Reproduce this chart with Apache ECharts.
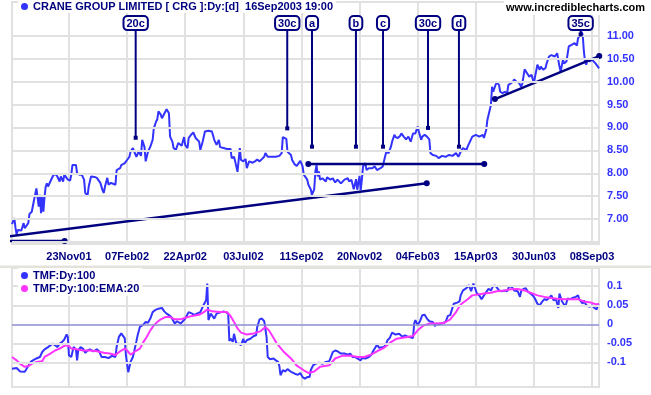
<!DOCTYPE html>
<html>
<head>
<meta charset="utf-8">
<script src="https://cdn.jsdelivr.net/npm/echarts@6/dist/echarts.min.js"></script>
<style>html,body{margin:0;padding:0;background:#fff}#c{width:651px;height:395px}</style>
</head>
<body>
<div id="c"></div>
<script>
// ---- data (x = trading-day number counted from 17Sep2001) ----
const chartTitle = 'CRANE GROUP LIMITED [ CRG ]:Dy:[d]  16Sep2003 19:00';
const siteText = 'www.incrediblecharts.com';
const tmfName = 'TMF:Dy:100';
const emaName = 'TMF:Dy:100:EMA:20';
const holidays = ['2001-12-25','2001-12-26','2002-01-01','2002-01-28','2002-03-29','2002-04-01','2002-04-25','2002-06-10','2002-12-25','2002-12-26','2003-01-01','2003-01-27','2003-04-18','2003-04-21','2003-04-25','2003-06-09'];
const xTickLabels = ['23Nov01','07Feb02','22Apr02','03Jul02','11Sep02','20Nov02','04Feb03','15Apr03','30Jun03','08Sep03'];
const priceTickLabels = [7, 7.5, 8, 8.5, 9, 9.5, 10, 10.5, 11];
const priceGridValues = [6.5, 7, 7.5, 8, 8.5, 9, 9.5, 10, 10.5, 11];
const tmfTickLabels = [0.1, 0.05, 0, -0.05, -0.1];

const price = [[0,6.89],[2,7.02],[3,6.81],[4,6.66],[5,6.76],[8,6.75],[10,6.91],[11,6.80],[14,6.91],[15,7.11],[17,7.16],[19,7.42],[21,7.67],[22,7.64],[23,7.27],[24,7.53],[25,7.13],[26,7.49],[27,7.16],[28,7.49],[29,7.71],[30,7.78],[31,7.71],[33,7.82],[35,7.93],[37,7.99],[39,7.93],[41,7.82],[42,7.93],[44,7.82],[45,7.97],[48,7.86],[50,7.84],[51,7.97],[52,8.18],[55,8.18],[56,8.00],[58,7.97],[60,7.97],[62,7.86],[63,7.57],[65,7.51],[66,7.71],[67,7.72],[68,7.93],[71,7.92],[73,7.90],[74,7.90],[76,7.79],[78,7.62],[79,7.57],[80,7.71],[82,7.90],[83,7.75],[85,7.79],[87,7.77],[89,7.75],[90,8.07],[93,8.11],[94,8.18],[97,8.22],[99,8.29],[101,8.36],[102,8.47],[104,8.55],[105,8.51],[107,8.36],[109,8.47],[111,8.38],[112,8.73],[114,8.57],[115,8.26],[117,8.47],[119,8.58],[121,8.73],[122,8.98],[124,9.13],[125,9.18],[126,9.35],[128,9.28],[129,9.20],[130,9.25],[132,9.35],[133,9.40],[135,9.31],[136,8.80],[138,8.69],[139,8.55],[141,8.51],[143,8.66],[146,8.60],[148,8.79],[149,8.62],[151,8.55],[152,8.77],[154,8.84],[156,8.89],[158,8.77],[161,8.69],[162,8.51],[164,8.69],[166,8.91],[169,8.93],[172,8.91],[173,8.95],[174,8.73],[176,8.62],[178,8.73],[179,8.57],[182,8.55],[185,8.53],[188,8.53],[189,8.33],[191,8.36],[192,8.26],[194,8.03],[196,8.55],[197,8.29],[199,8.26],[201,8.31],[202,8.11],[204,8.26],[207,8.23],[209,8.26],[211,8.30],[213,8.26],[217,8.36],[218,8.44],[220,8.36],[222,8.36],[227,8.36],[230,8.38],[232,8.44],[233,8.79],[234,8.82],[236,8.75],[237,8.47],[240,8.40],[241,8.29],[243,8.20],[245,8.16],[248,8.27],[250,8.15],[251,7.97],[254,7.86],[255,7.75],[257,7.65],[258,7.53],[260,7.65],[261,8.04],[262,8.18],[263,7.93],[264,8.04],[265,7.86],[267,7.89],[270,7.82],[271,7.91],[274,7.86],[276,7.89],[278,7.80],[280,7.86],[283,7.78],[286,7.86],[289,7.89],[290,7.82],[292,7.86],[294,7.65],[296,7.87],[297,7.64],[299,7.94],[300,7.63],[301,7.86],[302,8.15],[304,8.22],[305,8.07],[307,8.11],[310,8.11],[312,8.15],[314,8.07],[317,8.11],[319,8.15],[320,8.26],[322,8.47],[324,8.44],[326,8.58],[327,8.69],[329,8.84],[330,8.79],[332,8.77],[334,8.82],[335,8.87],[337,8.80],[339,8.74],[341,8.80],[343,8.69],[345,8.87],[346,8.91],[347,8.87],[349,9.02],[350,8.91],[352,8.73],[353,8.80],[355,8.84],[357,8.80],[359,8.74],[360,8.44],[362,8.40],[365,8.38],[367,8.33],[370,8.38],[373,8.36],[376,8.40],[379,8.38],[382,8.44],[384,8.36],[386,8.47],[388,8.55],[391,8.51],[392,8.58],[393,8.62],[396,8.80],[399,8.84],[402,8.80],[405,8.84],[406,8.77],[408,8.95],[409,9.17],[411,9.38],[412,9.49],[413,9.89],[414,9.78],[416,9.93],[417,9.98],[419,9.93],[420,9.78],[422,9.75],[424,9.78],[426,9.75],[427,9.93],[429,9.96],[431,10.0],[432,10.05],[434,10.0],[435,10.04],[436,9.98],[438,9.89],[439,9.95],[441,10.27],[443,10.19],[445,10.11],[447,10.15],[449,9.96],[450,10.11],[452,10.37],[454,10.26],[455,10.33],[457,10.26],[459,10.30],[460,10.40],[462,10.55],[464,10.58],[467,10.55],[469,10.62],[470,10.63],[471,10.33],[472,10.22],[474,10.48],[475,10.40],[477,10.44],[479,10.77],[481,10.80],[482,10.80],[484,10.84],[486,10.79],[487,10.95],[489,11.02],[490,11.09],[491,11.02],[492,10.66],[493,10.44],[494,10.37],[495,10.48],[497,10.44],[499,10.48],[500,10.49],[502,10.40],[503,10.37],[504,10.33],[505,10.29]];

const tmf = [[0,-0.117],[4,-0.115],[7,-0.124],[11,-0.125],[14,-0.110],[16,-0.099],[18,-0.095],[21,-0.090],[24,-0.086],[26,-0.073],[28,-0.066],[31,-0.060],[35,-0.051],[37,-0.055],[39,-0.060],[41,-0.051],[43,-0.047],[45,-0.040],[47,-0.027],[48,-0.033],[49,-0.082],[51,-0.086],[52,-0.073],[53,-0.060],[55,-0.066],[56,-0.095],[57,-0.069],[59,-0.060],[61,-0.064],[63,-0.075],[65,-0.069],[67,-0.066],[70,-0.071],[73,-0.066],[75,-0.071],[77,-0.086],[80,-0.086],[83,-0.089],[86,-0.083],[89,-0.086],[90,-0.060],[92,-0.033],[94,-0.024],[97,-0.037],[98,-0.082],[100,-0.126],[102,-0.099],[104,-0.086],[105,-0.073],[107,-0.045],[108,-0.030],[110,-0.007],[113,-0.001],[115,0.006],[117,0.004],[119,0.015],[121,0.032],[123,0.037],[126,0.041],[129,0.043],[131,0.034],[133,0.028],[135,0.024],[137,0.019],[138,0.015],[140,0.002],[142,0.008],[145,0.002],[147,0.008],[149,0.015],[152,0.032],[155,0.028],[157,0.024],[159,0.028],[162,0.032],[163,0.037],[165,0.052],[167,0.063],[168,0.107],[169,0.011],[171,0.028],[172,0.032],[174,0.015],[176,0.028],[177,0.032],[180,0.032],[182,0.034],[184,0.032],[186,0.028],[187,-0.044],[188,-0.038],[190,-0.046],[191,-0.025],[193,-0.051],[195,-0.051],[197,-0.055],[199,-0.038],[200,-0.051],[202,-0.042],[205,-0.038],[208,-0.031],[210,-0.029],[211,-0.007],[213,0.013],[215,0.015],[217,0.008],[219,-0.033],[220,-0.086],[222,-0.092],[225,-0.090],[227,-0.095],[229,-0.099],[230,-0.110],[231,-0.134],[233,-0.121],[235,-0.124],[237,-0.118],[240,-0.125],[242,-0.128],[244,-0.131],[246,-0.133],[248,-0.128],[250,-0.139],[252,-0.143],[254,-0.139],[256,-0.139],[257,-0.121],[259,-0.108],[261,-0.104],[264,-0.101],[267,-0.104],[270,-0.099],[273,-0.097],[274,-0.099],[276,-0.073],[278,-0.069],[280,-0.071],[283,-0.077],[286,-0.077],[289,-0.080],[291,-0.077],[293,-0.086],[295,-0.086],[297,-0.090],[300,-0.095],[301,-0.089],[304,-0.090],[307,-0.086],[309,-0.081],[311,-0.069],[314,-0.054],[316,-0.062],[317,-0.066],[320,-0.060],[322,-0.051],[323,-0.042],[325,-0.036],[327,-0.022],[330,-0.027],[333,-0.025],[336,-0.033],[338,-0.029],[341,-0.033],[345,-0.036],[346,0.002],[347,0.011],[349,-0.002],[351,0.008],[353,0.024],[355,0.025],[357,0.015],[359,0.008],[362,0.006],[364,-0.005],[365,0.002],[367,-0.001],[370,0.002],[373,0.006],[375,0.022],[377,0.024],[380,0.054],[383,0.057],[385,0.060],[386,0.076],[388,0.089],[389,0.093],[391,0.095],[393,0.103],[395,0.087],[397,0.107],[398,0.098],[400,0.081],[402,0.076],[404,0.066],[406,0.076],[408,0.085],[410,0.093],[412,0.089],[414,0.101],[416,0.101],[419,0.089],[421,0.087],[424,0.089],[426,0.087],[428,0.101],[430,0.098],[432,0.089],[433,0.091],[435,0.087],[437,0.072],[438,0.087],[440,0.093],[442,0.095],[444,0.085],[446,0.081],[448,0.076],[450,0.067],[452,0.054],[454,0.050],[456,0.059],[458,0.066],[460,0.064],[462,0.069],[464,0.076],[466,0.063],[468,0.066],[470,0.043],[471,0.081],[473,0.061],[474,0.066],[476,0.046],[478,0.068],[480,0.066],[482,0.069],[485,0.072],[487,0.076],[488,0.066],[491,0.054],[492,0.063],[494,0.050],[497,0.046],[499,0.050],[501,0.043],[503,0.039],[504,0.052],[505,0.054]];

const ema = [[0,-0.086],[4,-0.095],[7,-0.104],[11,-0.112],[14,-0.110],[17,-0.104],[21,-0.099],[26,-0.097],[28,-0.086],[33,-0.077],[37,-0.069],[41,-0.064],[46,-0.055],[49,-0.057],[51,-0.064],[56,-0.066],[61,-0.069],[67,-0.069],[73,-0.071],[79,-0.075],[84,-0.077],[89,-0.081],[93,-0.071],[97,-0.064],[99,-0.069],[102,-0.080],[106,-0.071],[110,-0.064],[113,-0.047],[116,-0.033],[119,-0.016],[122,-0.003],[125,0.006],[128,0.013],[132,0.019],[136,0.019],[140,0.013],[145,0.013],[149,0.017],[155,0.022],[161,0.025],[165,0.032],[168,0.039],[172,0.034],[179,0.032],[185,0.032],[188,0.022],[191,0.006],[194,-0.011],[197,-0.022],[202,-0.027],[208,-0.024],[214,-0.018],[218,-0.007],[221,-0.016],[224,-0.031],[228,-0.051],[234,-0.073],[240,-0.090],[245,-0.109],[251,-0.121],[255,-0.128],[260,-0.124],[265,-0.112],[273,-0.108],[278,-0.090],[284,-0.083],[292,-0.083],[297,-0.086],[303,-0.086],[308,-0.081],[314,-0.071],[320,-0.062],[326,-0.047],[331,-0.038],[339,-0.034],[345,-0.031],[349,-0.016],[354,-0.003],[360,0.002],[366,0.002],[372,0.004],[377,0.013],[382,0.032],[386,0.052],[392,0.066],[396,0.076],[400,0.078],[406,0.081],[412,0.083],[417,0.087],[424,0.089],[429,0.092],[435,0.093],[441,0.089],[446,0.083],[452,0.076],[458,0.072],[464,0.069],[469,0.067],[475,0.066],[481,0.066],[487,0.066],[492,0.060],[498,0.057],[503,0.052],[505,0.054]];

// trend lines: [day, price]; the first point of the two left-hand lines has no end marker
const trendLow = [[-10.3, 6.596], [356.8, 7.78]];
const supportLow = [[-10.3, 6.52], [45.3, 6.52]];
const resistance = [[254.9, 8.20], [406.3, 8.20]];
const trendHigh = [[415.5, 9.62], [505.2, 10.56]];

// annotations: label, day, price where the pointer ends
const annLabels = ['20c','30c','a','b','c','30c','d','35c'];
const annDays = [106.4, 236.8, 258.1, 295.9, 319.2, 357.9, 384.5, 489.2];
const annPrices = [8.775, 8.98, 8.58, 8.58, 8.58, 8.99, 8.58, 11.03];
const annTop = 11.148;

// ---- build trading-day calendar ----
const MON = ['Jan','Feb','Mar','Apr','May','Jun','Jul','Aug','Sep','Oct','Nov','Dec'];
const days = [];
for (let t = Date.UTC(2001, 8, 17); t <= Date.UTC(2003, 8, 16); t += 86400000) {
  const d = new Date(t);
  const wd = d.getUTCDay();
  if (wd === 0 || wd === 6) continue;
  const iso = d.toISOString().slice(0, 10);
  if (holidays.includes(iso)) continue;
  const dd = String(d.getUTCDate()).padStart(2, '0');
  const yy = String(d.getUTCFullYear()).slice(2);
  days.push(dd + MON[d.getUTCMonth()] + yy);
}
const lastDay = days.length - 1;

const FONT = 'Arial, "Liberation Sans", sans-serif';
const NAVY = '#000080';
const BLUE = '#3333ff';
const GRIDC = '#e1e1e1';
const isTick = (i, v) => xTickLabels.includes(v);
const near = (list, v) => list.some(t => Math.abs(t - v) < 1e-6);

function trendSeries(pts, startDot) {
  return {
    type: 'line', xAxisIndex: 2, yAxisIndex: 0, clip: false, silent: true,
    symbol: 'circle', symbolSize: 6, z: 4,
    itemStyle: { color: NAVY },
    lineStyle: { color: NAVY, width: 2.5 },
    data: pts.map((p, i) => (i === 0 && !startDot) ? { value: p, symbol: 'none' } : { value: p })
  };
}

const chart = echarts.init(document.getElementById('c'));
chart.setOption({
  animation: false,
  backgroundColor: '#fff',
  textStyle: { fontFamily: FONT },
  title: {
    text: siteText, right: 4, top: 0, padding: [2, 2], z: 20,
    backgroundColor: '#fff',
    textStyle: { fontSize: 11, fontWeight: 'bold', color: '#000', fontFamily: FONT }
  },
  legend: [
    { data: [chartTitle], left: 18, top: 0, padding: [1, 3, 1, 3], backgroundColor: '#fff', z: 20,
      icon: 'circle', itemWidth: 7, itemHeight: 7, selectedMode: false,
      textStyle: { fontSize: 11, fontWeight: 'bold', color: NAVY, fontFamily: FONT } },
    { data: [tmfName, emaName], orient: 'vertical', left: 18, top: 268, padding: [1, 3, 1, 3], z: 20,
      itemGap: 0, backgroundColor: '#fff', icon: 'circle', itemWidth: 7, itemHeight: 7, selectedMode: false,
      textStyle: { fontSize: 11, fontWeight: 'bold', color: NAVY, fontFamily: FONT, lineHeight: 13 } }
  ],
  graphic: [
    { type: 'rect', left: 0, top: 265.5, shape: { width: 651, height: 2.5 }, style: { fill: '#e3e3dc' }, z: 0 }
  ],
  grid: [
    { left: 12, right: 52, top: 2, height: 242, show: true, borderColor: GRIDC, borderWidth: 2 },
    { left: 12, right: 52, top: 268, height: 119, show: true, borderColor: GRIDC, borderWidth: 2 }
  ],
  xAxis: [
    { type: 'category', gridIndex: 0, data: days, boundaryGap: false,
      axisLine: { show: false }, axisTick: { show: false },
      axisLabel: { interval: isTick, color: NAVY, fontSize: 11, fontWeight: 'bold', fontFamily: FONT, margin: 7 },
      splitLine: { show: true, interval: isTick, lineStyle: { color: GRIDC, width: 2 } } },
    { type: 'category', gridIndex: 1, data: days, boundaryGap: false,
      axisLine: { show: false }, axisTick: { show: false }, axisLabel: { show: false },
      splitLine: { show: true, interval: isTick, lineStyle: { color: GRIDC, width: 2 } } },
    { type: 'value', gridIndex: 0, min: 0, max: lastDay, show: false, splitLine: { show: false } }
  ],
  yAxis: [
    { type: 'value', gridIndex: 0, position: 'right', min: 6.455, max: 11.74,
      minInterval: 0.5, maxInterval: 0.5, splitNumber: 10,
      axisLine: { show: false }, axisTick: { show: false }, splitLine: { show: false },
      axisLabel: { color: BLUE, fontSize: 11, fontWeight: 'bold', fontFamily: FONT, margin: 8,
        showMinLabel: true, showMaxLabel: true,
        formatter: v => near(priceTickLabels, v) ? v.toFixed(2) : '' } },
    { type: 'value', gridIndex: 1, position: 'right', min: -0.165, max: 0.148,
      minInterval: 0.05, maxInterval: 0.05, splitNumber: 6,
      axisLine: { show: false }, axisTick: { show: false }, splitLine: { show: false },
      axisLabel: { color: BLUE, fontSize: 11, fontWeight: 'bold', fontFamily: FONT, margin: 8,
        formatter: v => near(tmfTickLabels, v) ? String(+v.toFixed(2)) : '' } }
  ],
  series: [
    { type: 'line', xAxisIndex: 0, yAxisIndex: 0, data: [], z: 1, silent: true,
      markLine: { silent: true, symbol: 'none', animation: false, label: { show: false },
        lineStyle: { color: GRIDC, width: 2, type: 'solid' },
        data: priceGridValues.map(v => ({ yAxis: v })) } },
    { type: 'line', xAxisIndex: 1, yAxisIndex: 1, data: [], z: 1, silent: true,
      markLine: { silent: true, symbol: 'none', animation: false, label: { show: false },
        lineStyle: { color: GRIDC, width: 2, type: 'solid' },
        data: tmfTickLabels.map(v => v === 0
          ? { yAxis: v, lineStyle: { color: '#8c8cd2', width: 1.5, type: 'solid' } }
          : { yAxis: v }) } },
    { name: chartTitle, type: 'line', xAxisIndex: 0, yAxisIndex: 0, data: price,
      symbol: 'none', itemStyle: { color: BLUE }, lineStyle: { color: BLUE, width: 2 }, z: 3 },
    trendSeries(trendLow, false),
    trendSeries(supportLow, false),
    trendSeries(resistance, true),
    trendSeries(trendHigh, true),
    { type: 'custom', xAxisIndex: 2, yAxisIndex: 0, clip: false, silent: true, z: 5,
      encode: { x: 0, y: 1 },
      data: annDays.map((d, i) => [d, annPrices[i]]),
      renderItem: (params, api) => {
        const p1 = api.coord([api.value(0), api.value(1)]);
        const p2 = api.coord([api.value(0), annTop]);
        return { type: 'group', children: [
          { type: 'line', shape: { x1: p1[0], y1: p1[1], x2: p2[0], y2: p2[1] }, style: { stroke: NAVY, lineWidth: 2 } },
          { type: 'rect', shape: { x: p1[0] - 2, y: p1[1] - 2, width: 4, height: 4 }, style: { fill: NAVY } },
          { type: 'text', x: p2[0], y: p2[1], style: { text: annLabels[params.dataIndex], fill: NAVY,
            font: 'bold 11px ' + FONT, align: 'center', verticalAlign: 'bottom',
            backgroundColor: '#fff', borderColor: NAVY, borderWidth: 2, borderRadius: 3, padding: [1, 2, 0, 2] } }
        ] };
      } },
    { name: tmfName, type: 'line', xAxisIndex: 1, yAxisIndex: 1, data: tmf,
      symbol: 'none', itemStyle: { color: BLUE }, lineStyle: { color: BLUE, width: 2 }, z: 3 },
    { name: emaName, type: 'line', xAxisIndex: 1, yAxisIndex: 1, data: ema,
      symbol: 'none', itemStyle: { color: '#ff33ff' }, lineStyle: { color: '#ff33ff', width: 2 }, z: 4 }
  ]
});
</script>
</body>
</html>
